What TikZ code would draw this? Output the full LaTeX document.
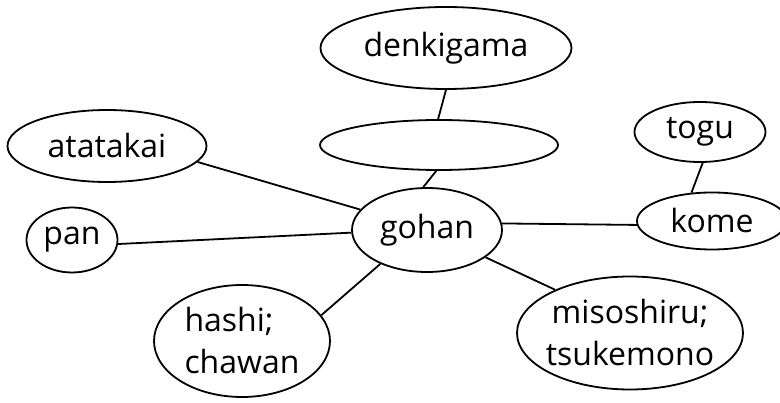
\documentclass[tikz,border=0pt]{standalone}
\usepackage{fontspec}
\setmainfont{Open Sans}
\usetikzlibrary{shapes.geometric}
\tikzset{
  bubble/.style={ellipse, draw, line width=1.8pt, inner sep=0pt, align=center,
    font=\fontsize{32}{42}\selectfont},
  link/.style={line width=1.8pt}
}
\begin{document}
\begin{tikzpicture}[x=1pt,y=-1pt]
\useasboundingbox (0,0) rectangle (780,403);
\node[bubble, minimum width=251pt, minimum height=82pt] (denki) at (446,48) {denkigama};
\node[bubble, minimum width=238pt, minimum height=50pt] (empty) at (439,145) {};
\node[bubble, minimum width=150pt, minimum height=84pt] (gohan) at (427,230) {gohan};
\node[bubble, minimum width=199pt, minimum height=72pt] (atatakai) at (107,146) {atatakai};
\node[bubble, minimum width=91pt, minimum height=65pt] (pan) at (72,240) {pan};
\node[bubble, minimum width=176pt, minimum height=112pt, inner xsep=-4pt, align=left] (hashi) at (242,341) {hashi;\\chawan};
\node[bubble, minimum width=131pt, minimum height=60pt] (togu) at (700,132) {togu};
\node[bubble, minimum width=150pt, minimum height=57pt] (kome) at (712,221) {kome};
\node[bubble, minimum width=226pt, minimum height=113pt, inner xsep=-6pt] (miso) at (630,333) {misoshiru;\\tsukemono};
\draw[link] (denki.-90) -- (empty.92);
\draw[link] (empty.-96) -- (gohan.95);
\draw[link] (atatakai.-10) -- (gohan.163);
\draw[link] (pan.-5) -- (gohan.182);
\draw[link] (hashi.18) -- (gohan.216);
\draw[link] (gohan.5) -- (kome.183);
\draw[link] (gohan.-25) -- (miso.150);
\draw[link] (togu.-85) -- (kome.126);
\end{tikzpicture}
\end{document}
